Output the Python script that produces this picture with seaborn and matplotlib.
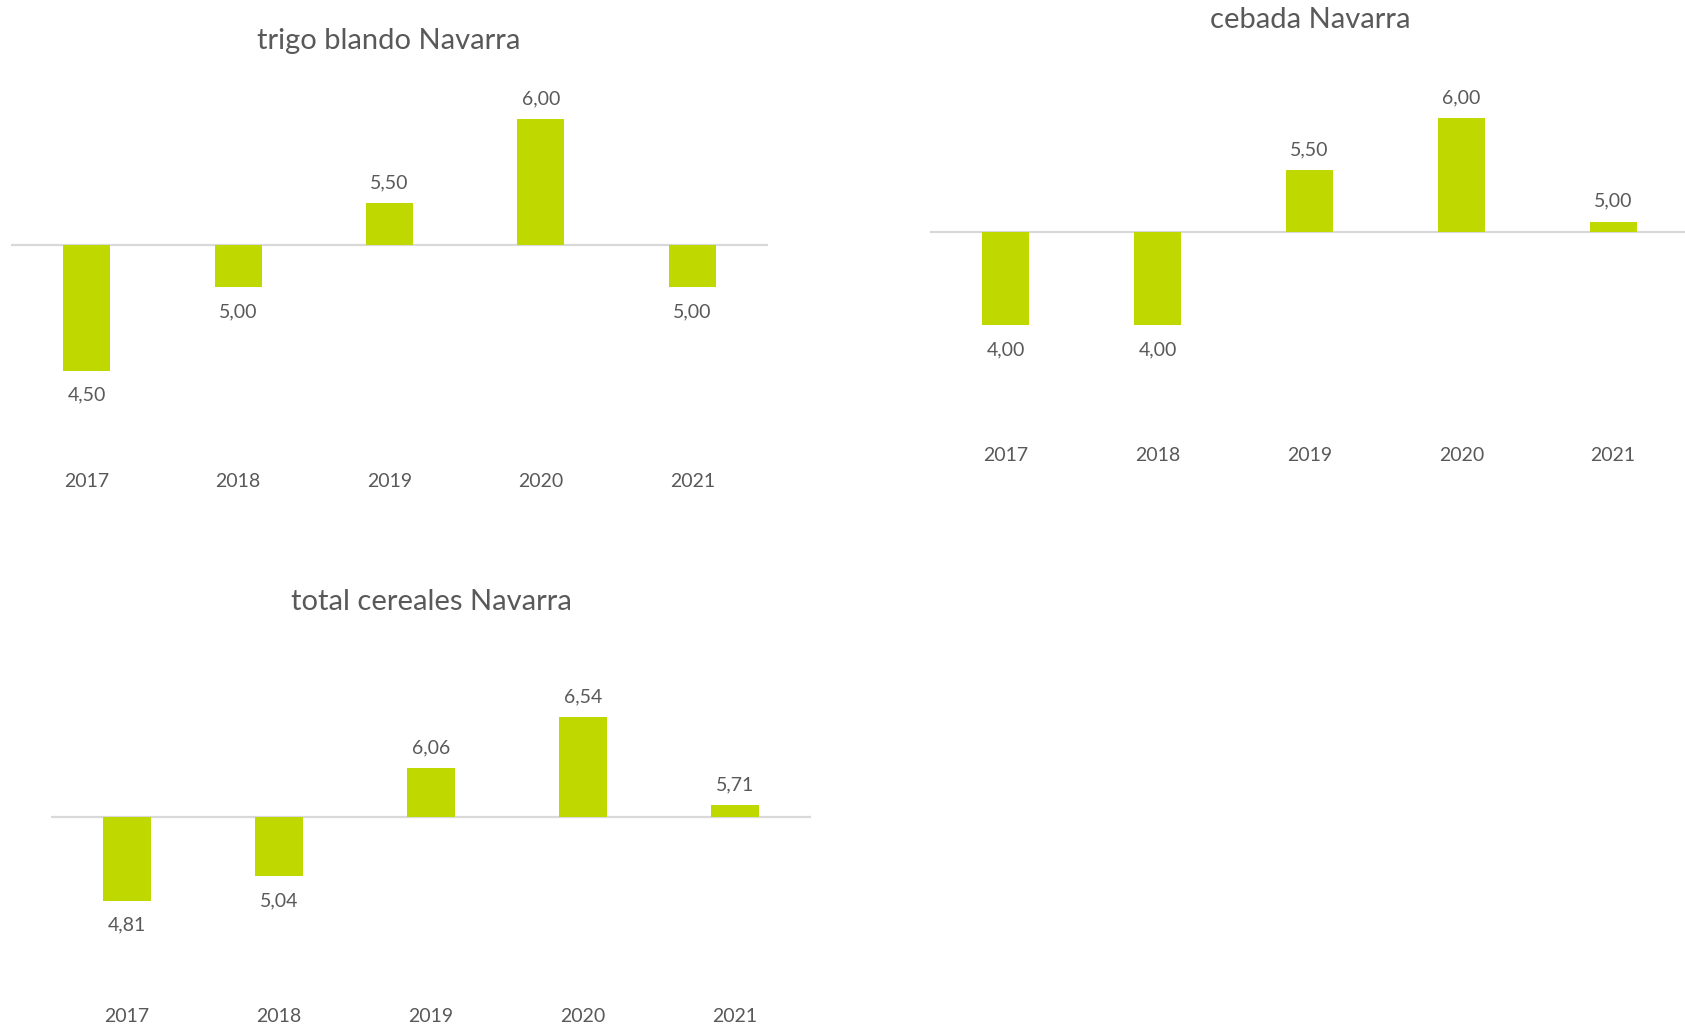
import matplotlib
matplotlib.use("Agg")
import matplotlib.pyplot as plt
import seaborn as sns
import pandas as pd

# Precios por campaña (€/100 kg) y su nivel de referencia
years = ["2017", "2018", "2019", "2020", "2021"]
trigo_values = [4.50, 5.00, 5.50, 6.00, 5.00]
cebada_values = [4.00, 4.00, 5.50, 6.00, 5.00]
total_values = [4.81, 5.04, 6.06, 6.54, 5.71]
trigo_ref = 5.25
cebada_ref = 4.90
total_ref = 5.60
titles = ["trigo blando Navarra", "cebada Navarra", "total cereales Navarra"]

sns.set_theme(style="white")
plt.rcParams["font.family"] = ["Lato", "DejaVu Sans"]

BAR = "#BFD900"
TXT = "#595959"
LINE = "#D9D9D9"
W, H = 1685, 1027
fig = plt.figure(figsize=(W / 100, H / 100), dpi=100)


def panel(values, ref, title, left, right, top, bottom, base_px, scale, title_xy):
    ax = fig.add_axes([left / W, 1 - bottom / H, (right - left) / W, (bottom - top) / H])
    df = pd.DataFrame({"year": years, "diff": [v - ref for v in values]})
    sns.barplot(data=df, x="year", y="diff", color=BAR, width=0.31,
                saturation=1, ax=ax, edgecolor="none")
    ax.set_xlim(-0.5, 4.5)
    ax.set_ylim(-(bottom - base_px) / scale, (base_px - top) / scale)
    ax.axhline(0, color=LINE, lw=1.6, zorder=0)
    for i, v in enumerate(values):
        d = v - ref
        off = 20.5 if d >= 0 else -24.5
        ax.annotate(f"{v:.2f}".replace(".", ","), (i, d), xytext=(0, off),
                    textcoords="offset pixels", ha="center", va="center",
                    fontsize=14, color=TXT)
    ax.set_xlabel("")
    ax.set_ylabel("")
    ax.set_yticks([])
    ax.tick_params(axis="x", length=0, pad=5, labelsize=14, labelcolor=TXT)
    for s in ax.spines.values():
        s.set_visible(False)
    ax.patch.set_alpha(0)
    fig.text(title_xy[0] / W, 1 - title_xy[1] / H, title, ha="center",
             va="center", fontsize=21, color=TXT)
    return ax


panel(trigo_values, trigo_ref, titles[0], 11, 768, 60, 466, 245, 167.5, (389, 41))
panel(cebada_values, cebada_ref, titles[1], 930, 1689, 40, 440, 232, 103.3, (1310, 20))
panel(total_values, total_ref, titles[2], 51, 811, 640, 1001, 817, 106, (431, 602))

fig.savefig("out.png", dpi=100, facecolor="white")
